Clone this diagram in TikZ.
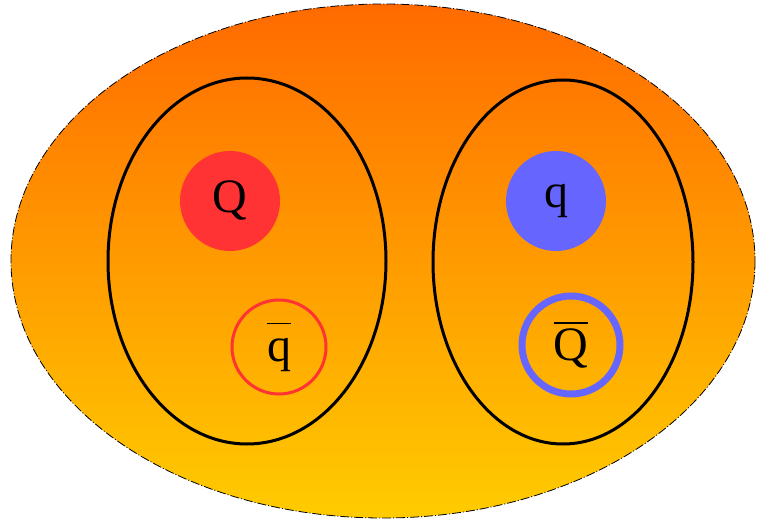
\documentclass[tikz,border=0pt]{standalone}
\usepackage{fontspec}
\setmainfont{Liberation Serif}
\newcommand\ovl[1]{\vbox{\hrule height 1.6pt\kern 5pt\hbox{\vphantom{Q}#1}}}
\begin{document}
\begin{tikzpicture}[x=1pt,y=-1pt,
  outer/.style={draw=black,line width=0.8pt,dash pattern=on 9pt off 2pt on 1pt off 2pt,top color=topc,bottom color=botc},
  group/.style={draw=black,line width=3pt},
  lbl/.style={font=\fontsize{48}{56}\selectfont}]
\definecolor{topc}{HTML}{FF6A00}
\definecolor{botc}{HTML}{FFCC00}
\definecolor{qred}{HTML}{FF3333}
\definecolor{qblue}{HTML}{6666FF}
\useasboundingbox (0,0) rectangle (766,521);
\path[outer] (383,261) ellipse [x radius=372, y radius=257];
\draw[group] (247,261) ellipse [x radius=139, y radius=183];
\draw[group] (563,262) ellipse [x radius=130, y radius=182];
\node[circle,fill=qred,minimum size=100pt,inner sep=0pt,lbl] (Q) at (230,201) {Q};
\node[circle,fill=qblue,minimum size=100pt,inner sep=0pt,lbl] (q) at (556,201) {q};
\node[circle,draw=qred,line width=3pt,minimum size=94pt,inner sep=0pt,lbl] (qb) at (279,347) {\ovl{q}};
\node[circle,draw=qblue,line width=7pt,minimum size=98pt,inner sep=0pt,lbl] (Qb) at (571,345) {\ovl{Q}};
\end{tikzpicture}
\end{document}
